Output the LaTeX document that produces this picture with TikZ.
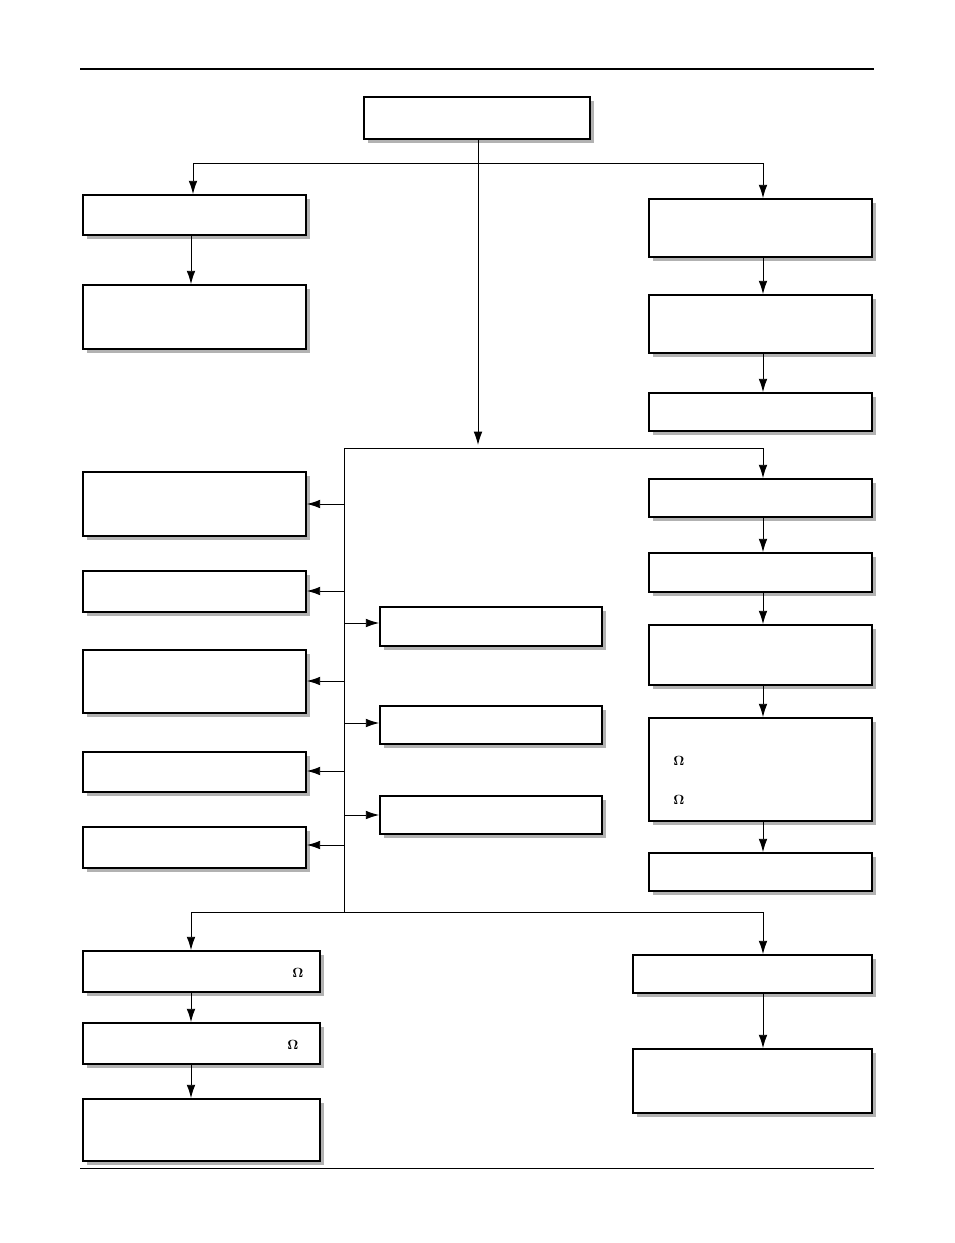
\documentclass[tikz,border=0pt]{standalone}
\usepackage{tikz}
\usetikzlibrary{arrows.meta,positioning,calc,shadows}

\tikzset{
  box/.style={draw, line width=1.3pt, fill=white, inner sep=0pt,
    drop shadow={shadow xshift=3pt, shadow yshift=-3pt, fill=black!30, opacity=1}},
  link/.style={line width=0.7pt},
  arr/.style={link, -{Latex[length=10pt,width=6.5pt]}},
  ohm/.style={font=\normalsize},
}
\newcommand\pbox[5]{\node[box, minimum width={(#4-#2)*0.75pt}, minimum height={(#5-#3)*0.75pt}] (#1) at ({(#2+#4)/2},{(#3+#5)/2}) {};}

\begin{document}
\begin{tikzpicture}[x=0.75pt, y=-0.75pt]
    \useasboundingbox (0,0) rectangle (954,1243);
    \draw[line width=2.2pt] (80,69) -- (874,69);
    \draw[line width=0.6pt] (80,1168) -- (874,1168);

    % Boxes
    \pbox{top}{364}{97}{590}{139}
    \pbox{lA}{83}{195}{306}{235}
    \pbox{lB}{83}{285}{306}{349}
    \pbox{rA}{649}{199}{872}{257}
    \pbox{rB}{649}{295}{872}{353}
    \pbox{rC}{649}{393}{872}{431}
    \pbox{rD}{649}{479}{872}{517}
    \pbox{rE}{649}{553}{872}{592}
    \pbox{rF}{649}{625}{872}{685}
    \pbox{rG}{649}{718}{872}{821}
    \pbox{rH}{649}{853}{872}{891}
    \pbox{sA}{83}{472}{306}{536}
    \pbox{sB}{83}{571}{306}{612}
    \pbox{sC}{83}{650}{306}{713}
    \pbox{sD}{83}{752}{306}{792}
    \pbox{sE}{83}{827}{306}{868}
    \pbox{mA}{380}{607}{602}{646}
    \pbox{mB}{380}{706}{602}{744}
    \pbox{mC}{380}{796}{602}{834}
    \pbox{bA}{83}{951}{320}{992}
    \pbox{bB}{83}{1023}{320}{1064}
    \pbox{bC}{83}{1099}{320}{1161}
    \pbox{cA}{633}{955}{872}{993}
    \pbox{cB}{633}{1049}{872}{1113}

    \node[ohm] (omA) at (298,973) {$\mathbf{\Omega}$};
    \node[ohm] (omB) at (293,1045) {$\mathbf{\Omega}$};
    \node[ohm] (omC) at (679,761) {$\mathbf{\Omega}$};
    \node[ohm] (omD) at (679,800) {$\mathbf{\Omega}$};

    % Junctions
    \coordinate (jTop) at (478,163);
    \coordinate (jL) at (193,163);
    \coordinate (jR) at (763,163);
    \coordinate (jMid) at (478,445);
    \coordinate (hL) at (344,448);
    \coordinate (hR) at (763,448);
    \coordinate (hB) at (344,912);
    \coordinate (bL) at (191,912);
    \coordinate (bR) at (763,912);

    \draw[link] (top.south -| jTop) -- (jTop);
    \draw[link] (jL) -- (jR);
    \draw[arr] (jL) -- (lA.north -| jL);
    \draw[arr] (jR) -- (rA.north -| jR);
    \draw[arr] (jTop) -- (jMid);
    \draw[link] (hL) -- (hR);
    \draw[arr] (hR) -- (rD.north -| hR);
    \draw[link] (hL) -- (hB);
    \draw[link] (bL) -- (bR);
    \draw[arr] (bL) -- (bA.north -| bL);
    \draw[arr] (bR) -- (cA.north -| bR);

    % Side arrows
    \foreach \n/\y in {sA/504, sB/591, sC/681, sD/771, sE/845}
        \draw[arr] (344,\y) -- (\n.east |- 0,\y);
    \foreach \n/\y in {mA/623, mB/723, mC/815}
        \draw[arr] (344,\y) -- (\n.west |- 0,\y);

    % Chains
    \draw[arr] (lA.south -| 191,0) -- (lB.north -| 191,0);
    \foreach \a/\b in {rA/rB, rB/rC, rD/rE, rE/rF, rF/rG, rG/rH, cA/cB}
        \draw[arr] (\a.south -| 763,0) -- (\b.north -| 763,0);
    \foreach \a/\b in {bA/bB, bB/bC}
        \draw[arr] (\a.south -| 191,0) -- (\b.north -| 191,0);
\end{tikzpicture}
\end{document}
